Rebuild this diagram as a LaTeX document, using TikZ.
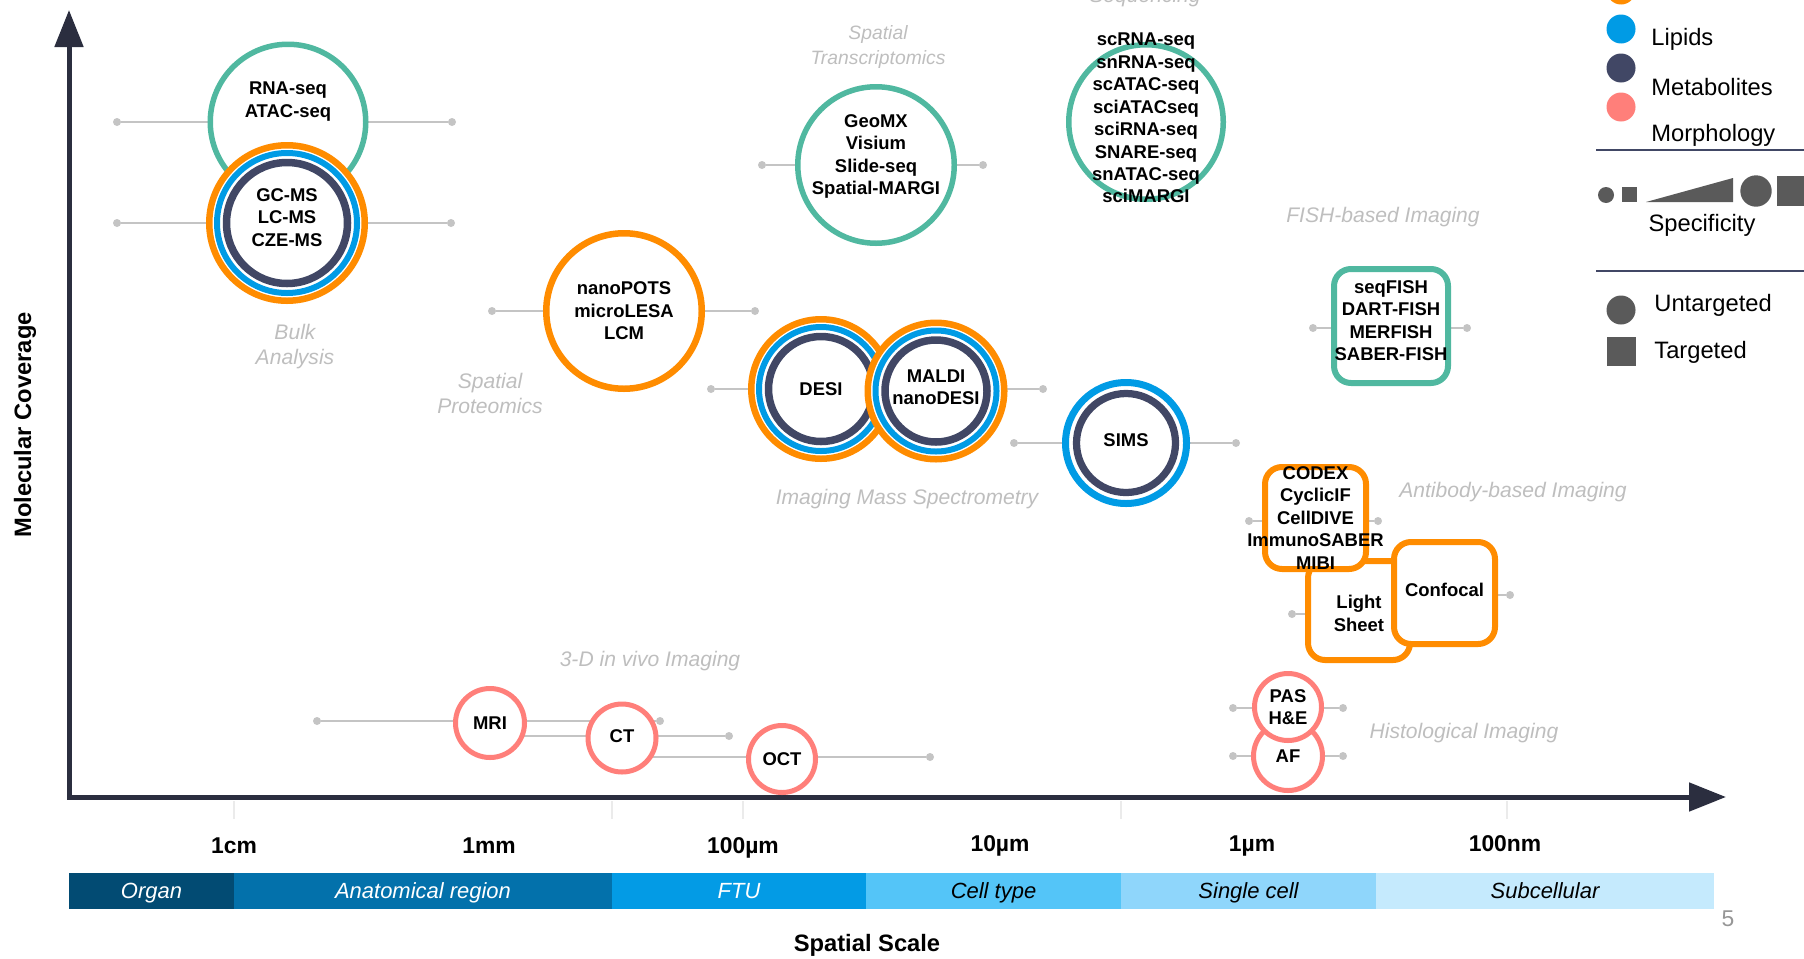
\documentclass[tikz,border=0pt]{standalone}
\usepackage{fontspec}
\setmainfont{Liberation Sans}
\usetikzlibrary{arrows.meta,backgrounds,positioning}

\definecolor{seqteal}{RGB}{80,184,160}
\definecolor{protorange}{RGB}{255,140,0}
\definecolor{lipidblue}{RGB}{0,155,229}
\definecolor{metabnavy}{RGB}{65,71,101}
\definecolor{morphpink}{RGB}{255,127,122}
\definecolor{rangegray}{RGB}{196,196,196}
\definecolor{catgray}{RGB}{190,190,190}
\definecolor{axisnavy}{RGB}{43,46,63}
\definecolor{keygray}{RGB}{90,90,90}
\definecolor{pagegray}{RGB}{150,150,150}
\definecolor{organblue}{RGB}{2,75,115}
\definecolor{anatblue}{RGB}{3,113,171}
\definecolor{ftublue}{RGB}{3,155,229}
\definecolor{cellblue}{RGB}{84,197,248}
\definecolor{singleblue}{RGB}{143,214,251}
\definecolor{subblue}{RGB}{197,234,253}

\tikzset{
  techtext/.style={font=\fontsize{10.5}{12.8}\selectfont\bfseries, align=center, inner sep=0pt},
  tech/.style={circle, fill=white, inner sep=0pt, outer sep=0pt},
  seqc/.style={tech, draw=seqteal, line width=1.1mm, minimum size=#1},
  protc/.style={tech, draw=protorange, line width=1.3mm, minimum size=#1},
  lipidc/.style={tech, draw=lipidblue, line width=1.4mm, minimum size=#1},
  morphc/.style={tech, draw=morphpink, line width=1mm, minimum size=#1},
  msrings/.style 2 args={path picture={
      \draw[lipidblue, line width=1.2mm] (path picture bounding box.center) circle[radius=#1];
      \draw[metabnavy, line width=1.5mm] (path picture bounding box.center) circle[radius=#2];}},
  navyring/.style={path picture={
      \draw[metabnavy, line width=1.45mm] (path picture bounding box.center) circle[radius=#1];}},
  techbox/.style={rectangle, rounded corners=3.4mm, fill=white, line width=1.2mm, inner sep=0pt, outer sep=0pt},
  rangedot/.style={circle, fill=rangegray, inner sep=0pt, minimum size=1.6mm},
  rangeline/.style={draw=rangegray, line width=0.5mm},
  catlabel/.style={font=\fontsize{12}{14.2}\selectfont\itshape, text=catgray, align=center, inner sep=0pt},
  keytext/.style={font=\fontsize{13.5}{16}\selectfont, anchor=west, inner sep=0pt},
  scaletext/.style={font=\fontsize{13}{15}\selectfont\bfseries, inner sep=0pt, anchor=base},
  axistitle/.style={font=\fontsize{13.5}{16}\selectfont\bfseries, inner sep=0pt},
  scaleseg/.style={rectangle, fill=#1, minimum height=7.2mm, inner sep=0pt, outer sep=0pt,
    text height=10.5pt, text depth=1.5pt, font=\fontsize{12.5}{15}\selectfont\itshape, anchor=west},
  axisline/.style={draw=axisnavy, line width=1mm, line join=miter,
    arrows={Triangle[length=7.4mm,width=5.6mm]-Triangle[length=7.4mm,width=5.6mm]}},
  tickline/.style={draw=black!8, line width=0.3mm},
}

\begin{document}
\begin{tikzpicture}[x=0.2mm, y=-0.2mm]
\useasboundingbox (0,0) rectangle (1804,958);

% axes
\coordinate (origin) at (69,797);
\coordinate (ytip) at (69,10);
\coordinate (xtip) at (1726,797);
\draw[axisline] (ytip) -- (origin) -- (xtip);
\foreach \tx in {234,612,743,1121,1507}
  \draw[tickline] (\tx,801) -- (\tx,819);

\node[axistitle, rotate=90] (ytitle) at (25,425) {Molecular Coverage};
\node[axistitle] (xtitle) at (867,945) {Spatial Scale};
\node[font=\fontsize{13}{15}\selectfont, text=pagegray] (pagenum) at (1728,919) {5};

% scale ticks
\node[scaletext] (cm) at (234,853) {1cm};
\node[scaletext] (mm) at (489,853) {1mm};
\node[scaletext] (hum) at (743,853) {100µm};
\node[scaletext] (tum) at (1000,851) {10µm};
\node[scaletext] (um) at (1252,851) {1µm};
\node[scaletext] (hnm) at (1505,851) {100nm};

% scale bar
\node[scaleseg=organblue, text=white, minimum width=33mm] (organ) at (69,891) {Organ};
\node[scaleseg=anatblue, text=white, minimum width=75.6mm, right=0pt of organ] (anat) {Anatomical region};
\node[scaleseg=ftublue, text=white, minimum width=50.8mm, right=0pt of anat] (ftu) {FTU};
\node[scaleseg=cellblue, minimum width=51mm, right=0pt of ftu] (celltype) {Cell type};
\node[scaleseg=singleblue, minimum width=51mm, right=0pt of celltype] (single) {Single cell};
\node[scaleseg=subblue, minimum width=67.6mm, right=0pt of single] (subcell) {Subcellular};

% range end points
\node[rangedot] (rnaL) at (117,122) {};
\node[rangedot] (rnaR) at (452,122) {};
\node[rangedot] (gcmsL) at (117,223) {};
\node[rangedot] (gcmsR) at (451,223) {};
\node[rangedot] (potsL) at (492,311) {};
\node[rangedot] (potsR) at (755,311) {};
\node[rangedot] (geomxL) at (762,165) {};
\node[rangedot] (geomxR) at (983,165) {};
\node[rangedot] (desiL) at (711,389) {};
\node[rangedot] (maldiR) at (1043,389) {};
\node[rangedot] (simsL) at (1014,443) {};
\node[rangedot] (simsR) at (1236,443) {};
\node[rangedot] (fishL) at (1313,328) {};
\node[rangedot] (fishR) at (1467,328) {};
\node[rangedot] (codexL) at (1249,521) {};
\node[rangedot] (codexR) at (1378,521) {};
\node[rangedot] (sheetL) at (1292,614) {};
\node[rangedot] (confR) at (1510,595) {};
\node[rangedot] (pasL) at (1233,708) {};
\node[rangedot] (pasR) at (1343,708) {};
\node[rangedot] (afL) at (1233,756) {};
\node[rangedot] (afR) at (1343,756) {};
\node[rangedot] (mriL) at (317,721) {};
\node[rangedot] (mriR) at (660,721) {};
\node[rangedot] (ctR) at (729,736) {};
\node[rangedot] (octR) at (930,757) {};
\coordinate (ctL) at (500,736);
\coordinate (octL) at (620,757);
\coordinate (sheetR) at (1400,614);
\coordinate (confL) at (1400,595);

% techniques
\node[seqc=31.1mm, label={[techtext, yshift=4.1mm]center:{RNA-seq\\ATAC-seq}}] (rna) at (288,122) {};
\node[protc=31.1mm, msrings={14mm}{12.1mm}, label={[techtext, yshift=1.1mm]center:{GC-MS\\LC-MS\\CZE-MS}}] (gcms) at (287,223) {};
\node[protc=31.1mm, label={[techtext]center:{nanoPOTS\\microLESA\\LCM}}] (pots) at (624,311) {};
\node[seqc=31.3mm, label={[techtext, yshift=1.7mm]center:{GeoMX\\Visium\\Slide-seq\\Spatial-MARGI}}] (geomx) at (876,165) {};
\node[seqc=30.9mm, label={[techtext, yshift=0.8mm]center:{scRNA-seq\\snRNA-seq\\scATAC-seq\\sciATACseq\\sciRNA-seq\\SNARE-seq\\snATAC-seq\\sciMARGI}}] (scrna) at (1146,122) {};
\node[protc=27.9mm, msrings={12.4mm}{10.5mm}, label={[techtext]center:DESI}] (desi) at (821,389) {};
\node[protc=27.3mm, msrings={12.1mm}{10.2mm}, label={[techtext, yshift=0.8mm]center:{MALDI\\nanoDESI}}] (maldi) at (936,391) {};
\node[lipidc=24.2mm, navyring=9.9mm, label={[techtext, yshift=0.6mm]center:SIMS}] (sims) at (1126,443) {};

\node[techbox, draw=seqteal, minimum size=22.8mm, label={[techtext, yshift=1.1mm]center:{seqFISH\\DART-FISH\\MERFISH\\SABER-FISH}}] (fish) at (1391,326) {};
\node[techbox, draw=protorange, minimum width=20.4mm, minimum height=19.8mm, label={[techtext, yshift=-0.6mm]center:{Light\\Sheet}}] (sheet) at (1359,610.5) {};
\node[techbox, draw=protorange, minimum width=20.2mm, minimum height=20.4mm, label={[techtext]center:{CODEX\\CyclicIF\\CellDIVE\\ImmunoSABER\\MIBI}}] (codex) at (1315.5,518) {};
\node[techbox, draw=protorange, minimum width=20.2mm, minimum height=20.4mm, label={[techtext, yshift=0.6mm]center:Confocal}] (confocal) at (1444.5,593) {};

\node[morphc=13.8mm, label={[techtext]center:AF}] (af) at (1288,756) {};
\node[morphc=13.4mm, label={[techtext]center:{PAS\\H\&E}}] (pas) at (1288,707) {};
\node[morphc=13.8mm, label={[techtext]center:MRI}] (mri) at (490,723) {};
\node[morphc=13.6mm, label={[techtext, yshift=0.4mm]center:CT}] (ct) at (622,738) {};
\node[morphc=13.4mm, label={[techtext]center:OCT}] (oct) at (782,759) {};

% ranges behind the techniques
\begin{scope}[on background layer]
  \draw[rangeline] (rnaL) -- (rnaR);
  \draw[rangeline] (gcmsL) -- (gcmsR);
  \draw[rangeline] (potsL) -- (potsR);
  \draw[rangeline] (geomxL) -- (geomxR);
  \draw[rangeline] (desiL) -- (maldiR);
  \draw[rangeline] (simsL) -- (simsR);
  \draw[rangeline] (fishL) -- (fishR);
  \draw[rangeline] (codexL) -- (codexR);
  \draw[rangeline] (sheetL) -- (sheetR);
  \draw[rangeline] (confL) -- (confR);
  \draw[rangeline] (pasL) -- (pasR);
  \draw[rangeline] (afL) -- (afR);
  \draw[rangeline] (mriL) -- (mriR);
  \draw[rangeline] (ctL) -- (ctR);
  \draw[rangeline] (octL) -- (octR);
\end{scope}

% category labels
\node[catlabel, anchor=base] (seqlabel) at (1145,2) {Sequencing};
\node[catlabel, font=\fontsize{11}{14.2}\selectfont\itshape] (stlabel) at (878,47) {Spatial\\Transcriptomics};
\node[catlabel] (bulklabel) at (295,347) {Bulk\\Analysis};
\node[catlabel] (splabel) at (490,393) {Spatial\\Proteomics};
\node[catlabel] (fishlabel) at (1383,217) {FISH-based Imaging};
\node[catlabel] (imslabel) at (907,499) {Imaging Mass Spectrometry};
\node[catlabel] (ablabel) at (1513,492) {Antibody-based Imaging};
\node[catlabel] (vivolabel) at (650,661) {3-D in vivo Imaging};
\node[catlabel] (histlabel) at (1464,733) {Histological Imaging};

% key
\fill[protorange] (1621,-10) circle[radius=14.5];
\fill[lipidblue] (1621,29) circle[radius=14.5];
\fill[metabnavy] (1621,68) circle[radius=14.5];
\fill[morphpink] (1621,107) circle[radius=14.5];
\node[keytext] (lipids) at (1651,39) {Lipids};
\node[keytext] (metab) at (1651,87) {Metabolites};
\node[keytext] (morph) at (1651,135) {Morphology};
\draw[metabnavy, line width=0.4mm] (1596,150) -- (1804,150);
\fill[keygray] (1606,195) circle[radius=8];
\fill[keygray] (1622,187) rectangle (1637,202);
\fill[keygray] (1646,202) -- (1733,178) -- (1733,202) -- cycle;
\fill[keygray] (1756,191) circle[radius=15.7];
\fill[keygray] (1777,176) rectangle (1815,206);
\node[font=\fontsize{13.5}{16}\selectfont, inner sep=0pt] (specific) at (1702,225) {Specificity};
\draw[metabnavy, line width=0.4mm] (1596,271) -- (1804,271);
\fill[keygray] (1621,310) circle[radius=14.5];
\node[keytext] (untarg) at (1654,305) {Untargeted};
\fill[keygray] (1607,337) rectangle (1636,366);
\node[keytext] (targ) at (1654,352) {Targeted};
\end{tikzpicture}
\end{document}
